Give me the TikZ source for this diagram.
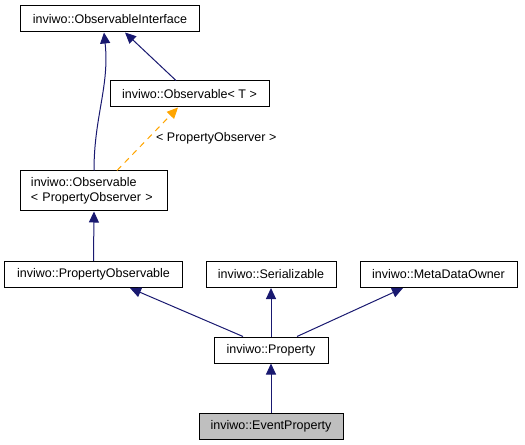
\documentclass[tikz,border=0pt]{standalone}
\usepackage{fontspec}
\setmainfont{Liberation Sans}
\usetikzlibrary{arrows.meta}
\definecolor{edgeblue}{HTML}{191970}
\definecolor{edgeorange}{HTML}{FFA500}
\definecolor{curgray}{HTML}{BFBFBF}
\begin{document}
\begin{tikzpicture}[x=1bp,y=-1bp,
  every node/.style={font=\fontsize{12.5bp}{15bp}\selectfont},
  cls/.style={draw=black, line width=1bp, fill=white, inner sep=0pt, minimum height=26bp},
  inh/.style={draw=edgeblue, line width=1bp, -{Triangle[length=11bp,width=10bp]}},
  tmpl/.style={draw=edgeorange, line width=1bp, dashed, dash pattern=on 6bp off 5bp, -{Triangle[length=11bp,width=10bp]}}]
\useasboundingbox (0,0) rectangle (525,445);
\node[cls, minimum width=178bp] (oi) at (110,19) {inviwo::ObservableInterface};
\node[cls, minimum width=159bp] (ot) at (189.5,94) {inviwo::Observable< T >};
\node[cls, minimum width=146bp, minimum height=40bp, align=left, text width=126bp, inner xsep=10bp] (opo) at (94,191) {inviwo::Observable\\< PropertyObserver >};
\node[cls, minimum width=177bp] (pob) at (93.5,274.5) {inviwo::PropertyObservable};
\node[cls, minimum width=130bp] (ser) at (271,274.5) {inviwo::Serializable};
\node[cls, minimum width=157bp] (mdo) at (438.5,274.5) {inviwo::MetaDataOwner};
\node[cls, minimum width=114bp] (prop) at (271,350) {inviwo::Property};
\node[cls, minimum width=144bp, fill=curgray] (ep) at (271,426) {inviwo::EventProperty};
\node[anchor=west, inner sep=0pt] (lbl) at (156,138) {< PropertyObserver >};
\draw[inh] (opo.north) to[out=90,in=-84] ([xshift=-6bp]oi.south);
\draw[inh] ([xshift=-13.5bp]ot.north) -- ([xshift=15bp]oi.south);
\draw[tmpl] ([xshift=23bp]opo.north) -- ([xshift=-11.5bp]ot.south);
\draw[inh] (pob.north) -- (opo.south);
\draw[inh] ([xshift=-28bp]prop.north) -- ([xshift=36.5bp]pob.south);
\draw[inh] (prop.north) -- (ser.south);
\draw[inh] ([xshift=26bp]prop.north) -- ([xshift=-35.5bp]mdo.south);
\draw[inh] (ep.north) -- (prop.south);
\end{tikzpicture}
\end{document}
